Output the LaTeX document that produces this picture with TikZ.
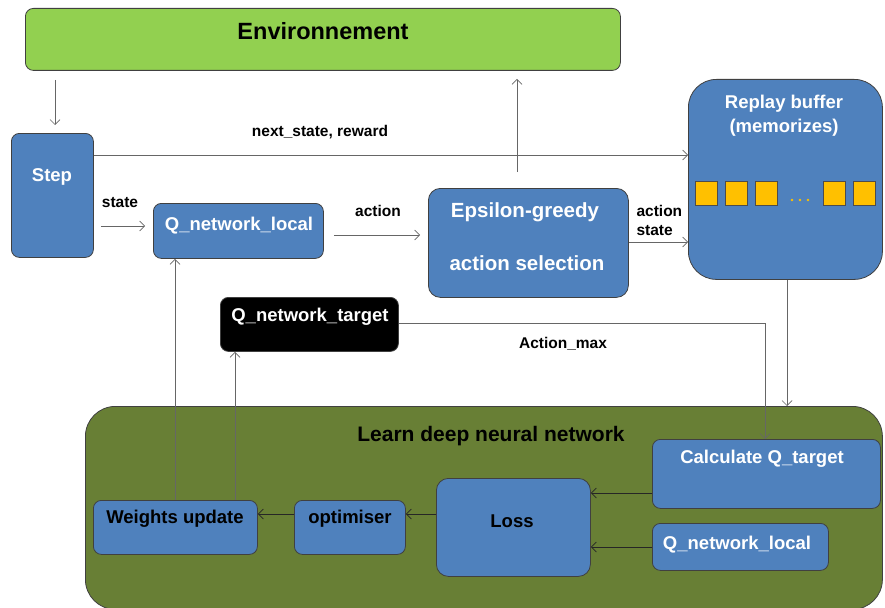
\documentclass[tikz,border=0pt]{standalone}
\usepackage{fontspec}
\setmainfont{Liberation Sans}
\usetikzlibrary{positioning,arrows.meta}

\definecolor{envgreen}{RGB}{146,208,80}
\definecolor{boxblue}{RGB}{79,129,189}
\definecolor{learngreen}{RGB}{104,127,53}
\definecolor{bufyellow}{RGB}{255,192,0}

\begin{document}
\begin{tikzpicture}[x=1pt, y=-1pt,
    box/.style={draw=black!75, line width=0.8pt, rounded corners=8pt, inner sep=0pt, anchor=north west},
    blue/.style={box, fill=boxblue},
    slot/.style={draw=black!70, fill=bufyellow, minimum width=22pt, minimum height=24pt, inner sep=0pt},
    txt/.style={font=\bfseries\fontsize{18.5}{22}\selectfont},
    wtxt/.style={txt, text=white},
    lbl/.style={font=\bfseries\fontsize{15.5}{19}\selectfont},
    arrow/.style={draw=black!60, line width=0.7pt, -{Straight Barb[length=5pt,width=10pt]}},
    inarrow/.style={arrow, draw=black!85}]

\useasboundingbox (0,0) rectangle (885,607);

% boxes
\node [box, fill=envgreen, minimum width=595pt, minimum height=62pt] (env) at (25,8) {};
\node [blue, minimum width=82pt, minimum height=124pt] (step) at (11,133) {};
\node [blue, minimum width=170pt, minimum height=55pt] (qlocal) at (153,203) {};
\node [blue, minimum width=200pt, minimum height=109pt, rounded corners=12pt] (eps) at (428,188) {};
\node [blue, minimum width=194pt, minimum height=200pt, rounded corners=28pt] (replay) at (688,79) {};
\node [box, fill=black, minimum width=178pt, minimum height=54pt] (qtarget) at (220,297) {};
\node [box, fill=learngreen, minimum width=797pt, minimum height=203pt, rounded corners=30pt] (learn) at (85,406) {};
\node [blue, minimum width=228pt, minimum height=69pt] (calc) at (652,439) {};
\node [blue, minimum width=176pt, minimum height=47pt] (qlocal2) at (652,523) {};
\node [blue, minimum width=154pt, minimum height=98pt, rounded corners=12pt] (loss) at (436,478) {};
\node [blue, minimum width=111pt, minimum height=54pt] (optim) at (294,500) {};
\node [blue, minimum width=164pt, minimum height=54pt] (weights) at (93,500) {};

% memory slots
\foreach \sx [count=\i] in {706,736,766,834,864}
    \node [slot] (slot\i) at (\sx,193) {};
\foreach \dx [count=\i] in {792,800,808}
    \fill [bufyellow] (\dx,200) circle (1.4pt) coordinate (dot\i);

% texts
\node [txt, font=\bfseries\fontsize{23.5}{28}\selectfont] (envtxt) at (323,31) {Environnement};
\node [wtxt] (steptxt) at (52,177) {Step};
\node [wtxt] (qlocaltxt) at (239,226) {Q\_network\_local};
\node [wtxt, font=\bfseries\fontsize{20.5}{24}\selectfont] (epstxt) at (525,212) {Epsilon-greedy};
\node [wtxt, font=\bfseries\fontsize{20.5}{24}\selectfont] (seltxt) at (527,263) {action selection};
\node [wtxt, align=center, font=\bfseries\fontsize{18.5}{24}\selectfont] (replaytxt) at (784,116) {Replay buffer\\(memorizes)};
\node [wtxt] (qtargettxt) at (310,317) {Q\_network\_target};
\node [txt, font=\bfseries\fontsize{21}{25}\selectfont] (learntxt) at (491,436) {Learn deep neural network};
\node [wtxt] (calctxt) at (762,459) {Calculate Q\_target};
\node [wtxt] (qlocal2txt) at (737,545) {Q\_network\_local};
\node [txt] (losstxt) at (512,521) {Loss};
\node [txt] (optimtxt) at (350,519) {optimiser};
\node [txt] (weightstxt) at (175,519) {Weights update};

% arrow labels
\node [lbl] (nsr) at (320,132) {next\_state, reward};
\node [lbl] (statelbl) at (120,203) {state};
\node [lbl] (actionlbl) at (378,211) {action};
\node [lbl, align=left, anchor=west] (aslbl) at (633,220) {action\\state};
\node [lbl] (amaxlbl) at (563,344) {Action\_max};

% connectors
\draw [arrow, shorten <=9pt, shorten >=8pt] (env.south -| 55,0) -- (step.north -| 55,0);
\draw [arrow] (step.east |- 0,155) -- (replay.west |- 0,155);
\draw [arrow, shorten <=16pt, shorten >=8pt] (eps.north -| 517,0) -- (env.south -| 517,0);
\draw [arrow, shorten <=7pt, shorten >=8pt] (step.east |- 0,226) -- (qlocal.west |- 0,226);
\draw [arrow, shorten <=10pt, shorten >=8pt] (qlocal.east |- 0,235) -- (eps.west |- 0,235);
\draw [arrow] (eps.east |- 0,242) -- (replay.west |- 0,242);
\draw [arrow] (replay.south -| 787,0) -- (learn.north -| 787,0);
\draw [arrow] (qtarget.east |- 0,323) -| (calc.north -| 765,0);
\draw [arrow] (weights.north -| 175,0) -- (qlocal.south -| 175,0);
\draw [arrow] (weights.north -| 235,0) -- (qtarget.south -| 235,0);
\draw [inarrow] (calc.west |- 0,493) -- (loss.east |- 0,493);
\draw [inarrow] (qlocal2.west |- 0,547) -- (loss.east |- 0,547);
\draw [inarrow] (loss.west |- 0,514) -- (optim.east |- 0,514);
\draw [inarrow] (optim.west |- 0,514) -- (weights.east |- 0,514);

\end{tikzpicture}
\end{document}
